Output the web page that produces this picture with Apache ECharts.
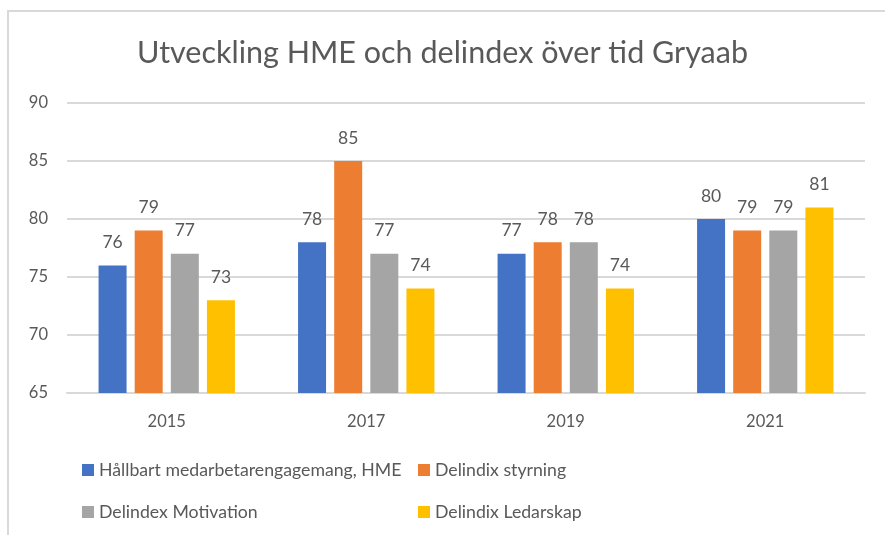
<!DOCTYPE html>
<html><head><meta charset="utf-8">
<script src="https://cdn.jsdelivr.net/npm/echarts@6/dist/echarts.min.js"></script>
<style>
html,body{margin:0;padding:0;background:#fff;}
#c{width:885px;height:535px;}
#frame{position:absolute;left:7px;top:10px;width:900px;height:600px;border-left:2px solid #d9d9d9;border-top:2px solid #d9d9d9;pointer-events:none;}
</style></head>
<body>
<div id="c"></div>
<div id="frame"></div>
<script>
const titleText = 'Utveckling HME och delindex över tid Gryaab';
const years = ['2015', '2017', '2019', '2021'];
const seriesNames = ['Hållbart medarbetarengagemang, HME', 'Delindix styrning', 'Delindex Motivation', 'Delindix Ledarskap'];
const hme = [76, 78, 77, 80];
const styrning = [79, 85, 78, 79];
const motivation = [77, 77, 78, 79];
const ledarskap = [73, 74, 74, 81];
const colors = ['#4472c4', '#ed7d31', '#a5a5a5', '#ffc000'];

const font = 'Lato, "Noto Sans", sans-serif';
const chart = echarts.init(document.getElementById('c'));
const values = [hme, styrning, motivation, ledarskap];
chart.setOption({
  animation: false,
  title: {text: titleText, left: 'center', top: 33,
    textStyle: {fontFamily: font, fontSize: 30.5, fontWeight: 'normal', color: '#595959'}},
  legend: [
    {data: [seriesNames[0], seriesNames[2]], orient: 'vertical', left: 77, top: 456, itemGap: 24,
     itemWidth: 12, itemHeight: 12, icon: 'rect',
     textStyle: {fontFamily: font, fontSize: 17.7, color: '#595959'}},
    {data: [seriesNames[1], seriesNames[3]], orient: 'vertical', left: 413, top: 456, itemGap: 24,
     itemWidth: 12, itemHeight: 12, icon: 'rect',
     textStyle: {fontFamily: font, fontSize: 17.7, color: '#595959'}}
  ],
  grid: {left: 67, right: 20, top: 103, bottom: 142, containLabel: false},
  xAxis: {type: 'category', data: years,
    axisLine: {lineStyle: {color: '#d9d9d9', width: 2}}, axisTick: {show: false},
    axisLabel: {fontFamily: font, fontSize: 16.5, color: '#595959', margin: 20}},
  yAxis: {type: 'value', min: 65, max: 90, interval: 5,
    axisLine: {show: false}, axisTick: {show: false},
    splitLine: {lineStyle: {color: '#d9d9d9', width: 2}},
    axisLabel: {fontFamily: font, fontSize: 16.5, color: '#595959', margin: 19}},
  series: seriesNames.map((n, i) => ({
    name: n, type: 'bar', data: values[i], barWidth: 28, barGap: '29%',
    itemStyle: {color: colors[i]},
    label: {show: true, position: 'top', distance: 14, fontFamily: font, fontSize: 17.5, color: '#595959'}
  }))
});
</script>
</body></html>
